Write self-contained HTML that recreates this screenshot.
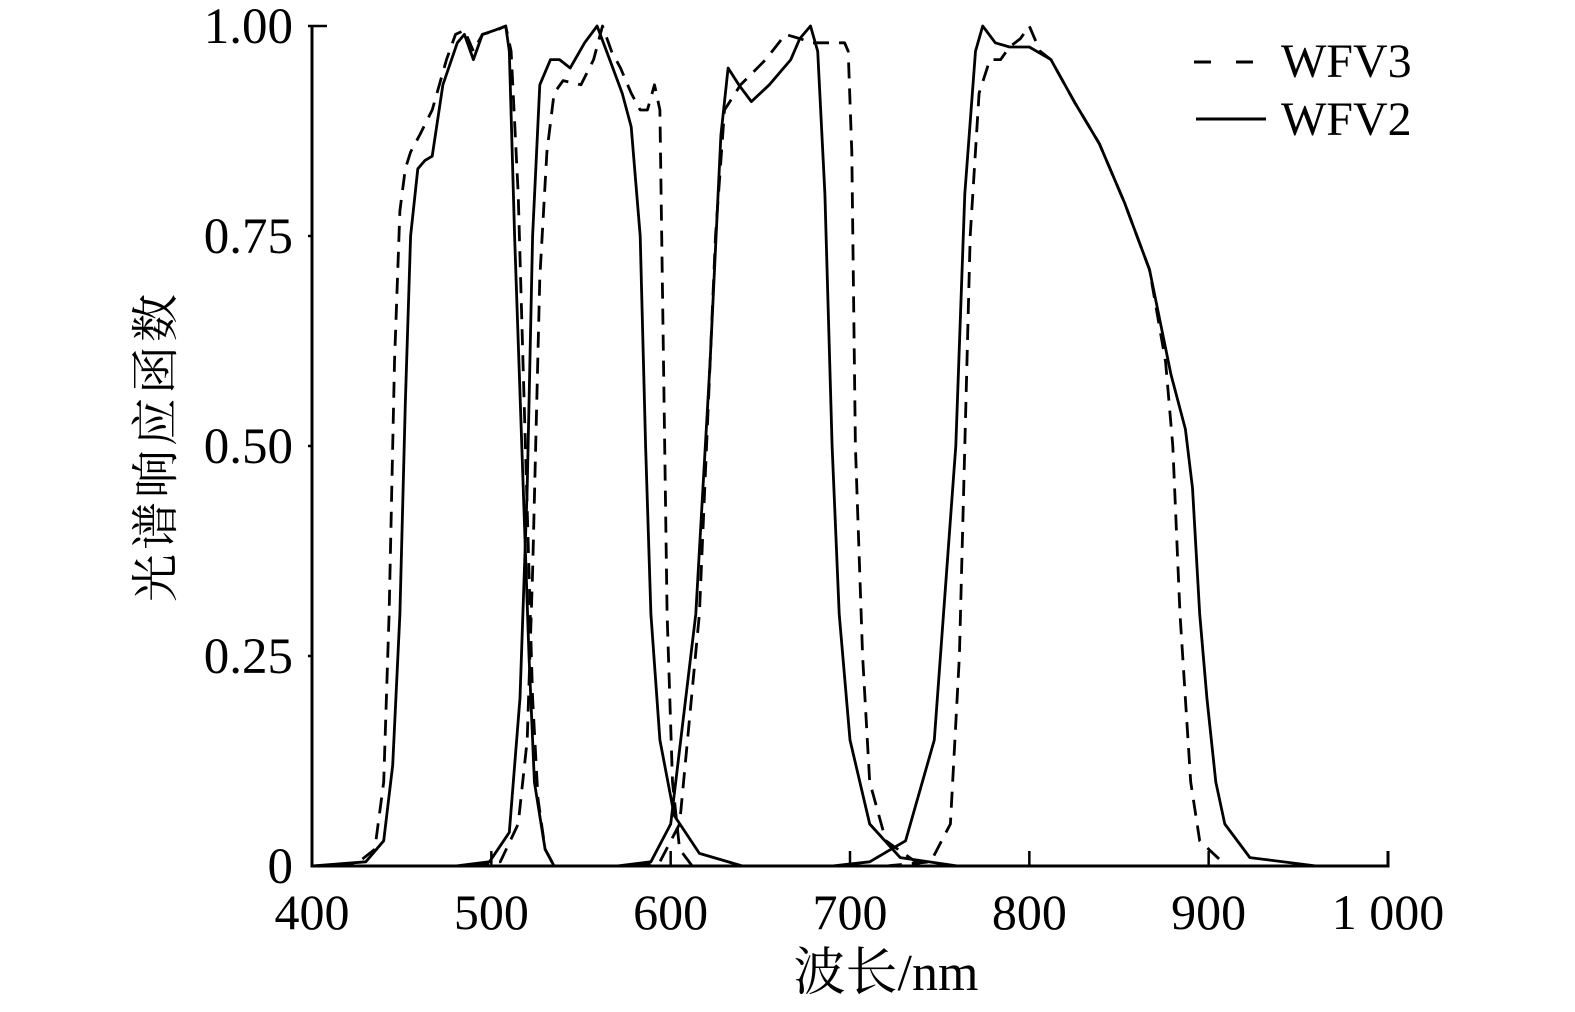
<!DOCTYPE html>
<html><head><meta charset="utf-8"><style>
html,body{margin:0;padding:0;background:#fff;}
svg{display:block;}
text{font-family:"Liberation Serif","Noto Serif CJK SC",serif;fill:#000;}
</style></head><body>
<svg id="chart" width="1575" height="1012" viewBox="0 0 1575 1012" xmlns="http://www.w3.org/2000/svg">
<g id="axes"></g>
<g id="series"></g>
<g>
 <line x1="1194" y1="62" x2="1256" y2="62" stroke="#000" stroke-width="3" stroke-dasharray="17,25"/>
 <text x="1281" y="77" font-size="48">WFV3</text>
 <line x1="1196" y1="119" x2="1266" y2="119" stroke="#000" stroke-width="3"/>
 <text x="1281" y="135" font-size="48">WFV2</text>
</g>
<text transform="translate(172,446) rotate(-90)" text-anchor="middle" font-size="48" style="letter-spacing:4px">光谱响应函数</text>
<text x="886" y="990" text-anchor="middle" font-size="52">波长/nm</text>
</svg>
<script>
const xTicks=[400,500,600,700,800,900,1000];
const xTickLabels=["400","500","600","700","800","900","1 000"];
const yTicks=[0,0.25,0.5,0.75,1.0];
const yTickLabels=["0","0.25","0.50","0.75","1.00"];
// WFV2 (solid) bands: wavelengths and responses
const wfv2B1nm=[400,430,440,445,449,452,455,459,463,467,473,481,485,490,495,502,508,510,513,517,521,524,530,535,560];
const wfv2B1v =[0,0.005,0.03,0.12,0.3,0.55,0.75,0.83,0.84,0.845,0.93,0.98,0.99,0.96,0.99,0.995,1.0,0.97,0.75,0.5,0.25,0.1,0.02,0,0];
const wfv2B2nm=[480,499,510,516,520,523,527,533,538,544,552,559,566,573,578,583,586,589,594,602,616,640];
const wfv2B2v =[0,0.005,0.04,0.2,0.45,0.75,0.93,0.96,0.96,0.95,0.98,1.0,0.96,0.92,0.88,0.75,0.5,0.3,0.15,0.06,0.015,0];
const wfv2B3nm=[570,589,600,614,622,628,632,638,645,655,667,672,678,682,686,690,694,700,711,728,760];
const wfv2B3v =[0,0.005,0.05,0.3,0.6,0.87,0.95,0.93,0.91,0.93,0.96,0.985,1.0,0.97,0.8,0.5,0.3,0.15,0.05,0.01,0];
const wfv2B4nm=[690,711,731,747,759,764,770,774,781,789,800,812,825,839,853,867,879,887,891,895,899,904,909,923,960,1000];
const wfv2B4v =[0,0.005,0.03,0.15,0.5,0.8,0.97,1.0,0.98,0.975,0.975,0.96,0.91,0.86,0.79,0.71,0.585,0.52,0.45,0.3,0.2,0.1,0.05,0.01,0,0];
// WFV3 (dashed) bands
const wfv3B1nm=[400,425,435,440,443,446,449,452,455,460,467,475,480,485,490,495,503,508,511,515,519,523,526,530,535,560];
const wfv3B1v =[0,0.003,0.02,0.1,0.3,0.6,0.78,0.83,0.85,0.87,0.9,0.96,0.99,0.995,0.97,0.99,0.995,1.0,0.97,0.8,0.5,0.2,0.08,0.02,0,0];
const wfv3B2nm=[490,505,515,520,523,527,531,535,540,550,557,562,567,572,578,583,587,591,594,596,598,601,605,612];
const wfv3B2v =[0,0.005,0.05,0.15,0.35,0.7,0.85,0.92,0.935,0.93,0.96,1.0,0.97,0.95,0.92,0.9,0.9,0.93,0.9,0.6,0.3,0.1,0.02,0];
const wfv3B3nm=[580,594,605,616,625,630,639,653,664,672,679,683,692,697,699,701,703,707,711,720,740];
const wfv3B3v =[0,0.005,0.05,0.3,0.75,0.9,0.93,0.96,0.99,0.985,0.98,0.98,0.98,0.98,0.97,0.85,0.5,0.25,0.1,0.03,0];
const wfv3B4nm=[720,745,756,761,767,772,778,784,789,795,800,806,812,825,839,853,867,876,880,884,890,895,910,1000];
const wfv3B4v =[0,0.005,0.05,0.25,0.75,0.92,0.96,0.96,0.975,0.985,1.0,0.97,0.96,0.91,0.86,0.79,0.71,0.6,0.5,0.3,0.1,0.03,0,0];

const X0=312,X1=1388,Y0=866,Y1=26;
function xs(v){return X0+(v-400)/600*(X1-X0);}
function ys(v){return Y0-v*(Y0-Y1);}
const NS="http://www.w3.org/2000/svg";
const axes=document.getElementById('axes'),series=document.getElementById('series');
function mk(tag,attrs,parent){const e=document.createElementNS(NS,tag);for(const k in attrs)e.setAttribute(k,attrs[k]);parent.appendChild(e);return e;}

let e=mk('path',{d:`M${xs(400)},${ys(1)} V${ys(0)} H${xs(1000)} V${ys(0)-15}`,fill:'none',stroke:'#000','stroke-width':3},axes);


xTicks.forEach((t,i)=>{
  if(t>400&&t<1000){const l=mk('line',{x1:xs(t),x2:xs(t),y1:ys(0),y2:ys(0)-15,stroke:'#000','stroke-width':2.5},axes);
  
  }
  const tx=mk('text',{x:xs(t),y:ys(0)+63,'text-anchor':'middle','font-size':50},axes);
  tx.textContent=xTickLabels[i];
  
  
});
yTicks.forEach((t,i)=>{
  if(t>0){const l=mk('line',{x1:xs(400)-4,x2:t===1?xs(400)+15:xs(400),y1:ys(t),y2:ys(t),stroke:'#000','stroke-width':2.5},axes);
  
  }
  const tx=mk('text',{x:293,y:ys(t)+17,'text-anchor':'end','font-size':51},axes);
  tx.textContent=yTickLabels[i];
  
  
});
function draw(nm,v,dashed,name){
  const d=nm.map((w,i)=>(i?'L':'M')+xs(w).toFixed(1)+','+ys(v[i]).toFixed(1)).join(' ');
  const p=mk('path',{d:d,fill:'none',stroke:'#000','stroke-width':2.8,'stroke-linejoin':'round'},series);
  if(dashed)p.setAttribute('stroke-dasharray','16,10');
  
  
}
draw(wfv2B1nm,wfv2B1v,false,'wfv2-band1-line');
draw(wfv2B2nm,wfv2B2v,false,'wfv2-band2-line');
draw(wfv2B3nm,wfv2B3v,false,'wfv2-band3-line');
draw(wfv2B4nm,wfv2B4v,false,'wfv2-band4-line');
draw(wfv3B1nm,wfv3B1v,true,'wfv3-band1-line');
draw(wfv3B2nm,wfv3B2v,true,'wfv3-band2-line');
draw(wfv3B3nm,wfv3B3v,true,'wfv3-band3-line');
draw(wfv3B4nm,wfv3B4v,true,'wfv3-band4-line');
</script>
</body></html>
